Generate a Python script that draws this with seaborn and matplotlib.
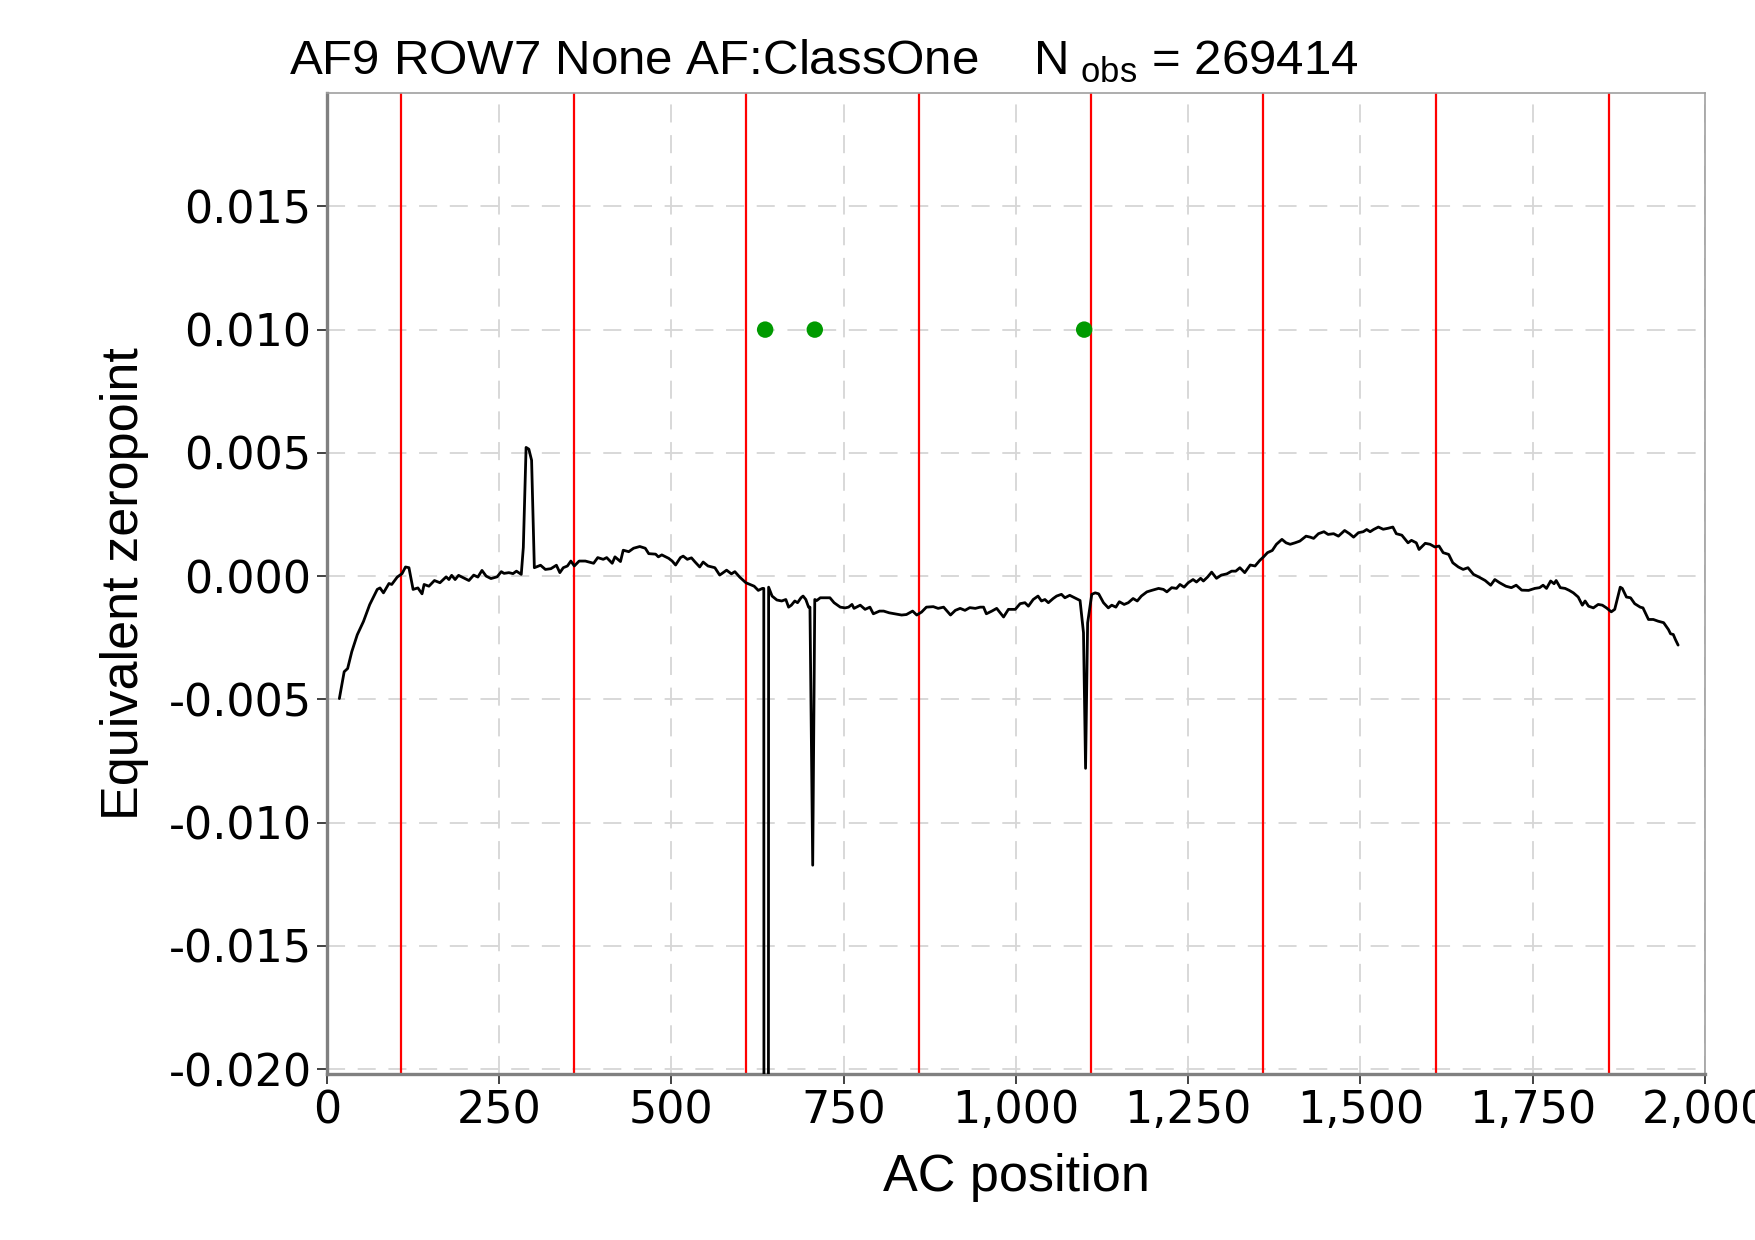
import seaborn as sns
import matplotlib.pyplot as plt
import matplotlib.ticker as mticker
import pandas as pd
import numpy as np

# Datos
ac_position = [
    18, 25, 30, 36, 44, 53, 62, 73, 77, 82, 90, 94, 102, 109, 114, 119, 125, 132, 138, 141,
    148, 156, 164, 173, 177, 181, 186, 191, 198, 206, 213, 219, 225, 231, 238, 247, 253, 257, 264, 270,
    275, 282, 285, 289, 293, 297, 301, 310, 317, 325, 333, 338, 343, 349, 354, 359, 366, 375, 387, 393,
    401, 406, 414, 418, 426, 430, 438, 445, 454, 462, 467, 477, 481, 486, 496, 501, 506, 513, 517, 523,
    529, 534, 541, 546, 553, 563, 570, 580, 587, 592, 599, 608, 614, 620, 626, 632, 634, 637, 641, 646,
    653, 660, 666, 670, 674, 679, 683, 688, 691, 695, 699, 701, 705, 708, 711, 716, 723, 730, 736, 745,
    752, 757, 762, 765, 774, 781, 788, 793, 802, 808, 816, 824, 834, 841, 850, 856, 863, 870, 880, 887,
    895, 899, 905, 912, 919, 926, 933, 941, 948, 953, 957, 965, 972, 982, 989, 999, 1006, 1013, 1018, 1025,
    1032, 1037, 1042, 1047, 1054, 1059, 1066, 1071, 1078, 1083, 1093, 1098, 1101, 1104, 1110, 1115, 1120, 1127, 1134, 1139,
    1145, 1150, 1157, 1163, 1170, 1176, 1182, 1190, 1197, 1207, 1214, 1219, 1226, 1233, 1238, 1244, 1250, 1257, 1262, 1268,
    1272, 1278, 1284, 1291, 1298, 1306, 1313, 1319, 1325, 1332, 1340, 1347, 1354, 1359, 1365, 1372, 1378, 1386, 1392, 1398,
    1405, 1412, 1421, 1427, 1432, 1439, 1447, 1453, 1461, 1468, 1477, 1484, 1490, 1497, 1504, 1509, 1514, 1519, 1526, 1533,
    1540, 1547, 1552, 1560, 1569, 1574, 1581, 1585, 1594, 1601, 1608, 1614, 1620, 1628, 1634, 1642, 1649, 1656, 1664, 1672,
    1681, 1689, 1695, 1702, 1711, 1719, 1726, 1734, 1744, 1753, 1760, 1765, 1770, 1776, 1781, 1784, 1790, 1797, 1803, 1809,
    1816, 1822, 1826, 1831, 1838, 1845, 1851, 1857, 1864, 1869, 1877, 1880, 1886, 1892, 1898, 1906, 1910, 1918, 1925, 1932,
    1940, 1947, 1950, 1954, 1957, 1961,
]
zeropoint = [
    -0.00497, -0.00388, -0.00375, -0.00307, -0.00238, -0.00184, -0.00116, -0.00054, -0.00048, -0.00068,
    -0.00030, -0.00034, -0.00004, 0.00010, 0.00037, 0.00034, -0.00054, -0.00048, -0.00072, -0.00034,
    -0.00041, -0.00018, -0.00027, -0.00003, -0.00014, 0.00003, -0.00014, 0.00003, -0.00007, -0.00018,
    0.00004, -0.00004, 0.00023, 0.00000, -0.00010, -0.00003, 0.00018, 0.00011, 0.00014, 0.00010,
    0.00020, 0.00007, 0.00116, 0.00522, 0.00515, 0.00470, 0.00034, 0.00044, 0.00027, 0.00030,
    0.00044, 0.00014, 0.00034, 0.00041, 0.00061, 0.00041, 0.00061, 0.00061, 0.00052, 0.00075,
    0.00068, 0.00075, 0.00052, 0.00078, 0.00059, 0.00105, 0.00099, 0.00113, 0.00120, 0.00113,
    0.00091, 0.00089, 0.00078, 0.00086, 0.00072, 0.00061, 0.00045, 0.00075, 0.00081, 0.00068,
    0.00074, 0.00058, 0.00037, 0.00057, 0.00041, 0.00034, 0.00004, 0.00024, 0.00009, 0.00018,
    -0.00004, -0.00027, -0.00034, -0.00041, -0.00058, -0.00050, -0.00050, -0.30000, -0.00045, -0.00081,
    -0.00097, -0.00101, -0.00095, -0.00126, -0.00118, -0.00101, -0.00108, -0.00088, -0.00081, -0.00095,
    -0.00126, -0.00126, -0.01173, -0.00095, -0.00099, -0.00088, -0.00088, -0.00088, -0.00108, -0.00126,
    -0.00129, -0.00126, -0.00115, -0.00131, -0.00118, -0.00135, -0.00126, -0.00153, -0.00142, -0.00142,
    -0.00149, -0.00153, -0.00158, -0.00156, -0.00142, -0.00158, -0.00146, -0.00126, -0.00124, -0.00131,
    -0.00126, -0.00139, -0.00158, -0.00139, -0.00131, -0.00139, -0.00128, -0.00131, -0.00126, -0.00126,
    -0.00153, -0.00142, -0.00131, -0.00166, -0.00135, -0.00135, -0.00112, -0.00108, -0.00122, -0.00095,
    -0.00081, -0.00101, -0.00095, -0.00108, -0.00091, -0.00081, -0.00074, -0.00088, -0.00078, -0.00085,
    -0.00099, -0.00230, -0.00780, -0.00190, -0.00074, -0.00068, -0.00072, -0.00108, -0.00129, -0.00118,
    -0.00126, -0.00104, -0.00115, -0.00108, -0.00091, -0.00101, -0.00081, -0.00064, -0.00058, -0.00050,
    -0.00054, -0.00064, -0.00047, -0.00050, -0.00034, -0.00045, -0.00027, -0.00014, -0.00024, -0.00009,
    -0.00020, -0.00004, 0.00016, -0.00009, 0.00004, 0.00009, 0.00020, 0.00020, 0.00034, 0.00014,
    0.00045, 0.00041, 0.00064, 0.00077, 0.00095, 0.00104, 0.00129, 0.00149, 0.00135, 0.00129,
    0.00135, 0.00142, 0.00162, 0.00158, 0.00153, 0.00172, 0.00180, 0.00169, 0.00172, 0.00162,
    0.00185, 0.00172, 0.00158, 0.00176, 0.00180, 0.00189, 0.00180, 0.00189, 0.00199, 0.00190,
    0.00194, 0.00199, 0.00172, 0.00166, 0.00135, 0.00145, 0.00135, 0.00108, 0.00133, 0.00129,
    0.00118, 0.00122, 0.00095, 0.00088, 0.00054, 0.00037, 0.00027, 0.00034, 0.00007, -0.00004,
    -0.00018, -0.00037, -0.00014, -0.00027, -0.00041, -0.00047, -0.00037, -0.00057, -0.00058, -0.00050,
    -0.00047, -0.00037, -0.00050, -0.00020, -0.00031, -0.00018, -0.00047, -0.00050, -0.00058, -0.00068,
    -0.00085, -0.00118, -0.00101, -0.00122, -0.00129, -0.00115, -0.00118, -0.00129, -0.00145, -0.00135,
    -0.00045, -0.00050, -0.00085, -0.00088, -0.00112, -0.00126, -0.00129, -0.00176, -0.00176, -0.00183,
    -0.00189, -0.00217, -0.00234, -0.00237, -0.00257, -0.00280,
]

# Posiciones de los limites (lineas rojas) y puntos verdes
boundaries = [108, 358, 608, 859, 1109, 1359, 1610, 1860]
marker_x = [636, 708, 1099]
marker_y = [0.010, 0.010, 0.010]

title_text = r"AF9 ROW7 None AF:ClassOne    N$_{\mathrm{\ obs}}$ = 269414"
x_ticks = [0, 250, 500, 750, 1000, 1250, 1500, 1750, 2000]
y_ticks = [-0.020, -0.015, -0.010, -0.005, 0.000, 0.005, 0.010, 0.015]

df = pd.DataFrame({"AC position": ac_position, "Equivalent zeropoint": zeropoint})
df_marks = pd.DataFrame({"x": marker_x, "y": marker_y})

sns.set_style("whitegrid")
plt.rcParams["font.family"] = ["Liberation Sans", "DejaVu Sans"]
plt.rcParams["mathtext.fontset"] = "custom"
plt.rcParams["mathtext.rm"] = "Liberation Sans"
plt.rcParams["axes.unicode_minus"] = False
plt.rcParams["text.color"] = "black"
plt.rcParams["axes.labelcolor"] = "black"

fig = plt.figure(figsize=(17.55, 12.4), dpi=100)
ax = fig.add_axes([0.1863, 0.1339, 0.7852, 0.7911])

for b in boundaries:
    ax.axvline(b, color="#ff0000", linewidth=1.6, zorder=2)

sns.lineplot(data=df, x="AC position", y="Equivalent zeropoint", color="black",
             linewidth=2.0, sort=False, estimator=None, ax=ax, zorder=3)
sns.scatterplot(data=df_marks, x="x", y="y", color="#009a00", s=140,
                edgecolor="none", ax=ax, zorder=4)

ax.set_xlim(0, 2000)
ax.set_ylim(-0.0202, 0.0196)
ax.set_xticks(x_ticks)
ax.set_yticks(y_ticks)
ax.xaxis.set_major_formatter(mticker.StrMethodFormatter("{x:,.0f}"))
ax.yaxis.set_major_formatter(mticker.StrMethodFormatter("{x:.3f}"))

ax.grid(True, color="#d6d6d6", linestyle=(0, (10, 7)), linewidth=1.3)
ax.set_axisbelow(True)
for side in ["left", "bottom"]:
    ax.spines[side].set_color("#808080")
    ax.spines[side].set_linewidth(2.4)
for side in ["top", "right"]:
    ax.spines[side].set_color("#a0a0a0")
    ax.spines[side].set_linewidth(1.2)

ax.tick_params(axis="both", which="major", direction="out", length=7, width=1.3,
               color="#333333", labelsize=32, labelcolor="black", pad=4,
               bottom=True, left=True)
for lab in ax.get_xticklabels() + ax.get_yticklabels():
    lab.set_family(["DejaVu Sans"])

ax.set_xlabel("AC position", fontsize=37.5, labelpad=15, color="black")
ax.set_ylabel("Equivalent zeropoint", fontsize=37.5, labelpad=14, color="black")

fig.text(0.1647, 0.940, title_text, fontsize=35.5, ha="left", va="baseline", color="black")

fig.savefig("out.png", dpi=100)
